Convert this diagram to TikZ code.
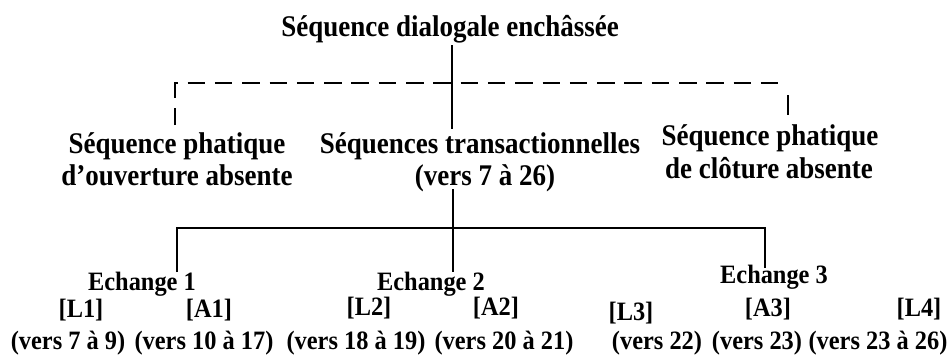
\documentclass[tikz,border=0pt]{standalone}
\usepackage{fontspec}
\setmainfont{Liberation Serif}
\newfontfamily\bigf[FakeStretch=0.9]{Liberation Serif}
\newfontfamily\smallf[FakeStretch=0.92]{Liberation Serif}
\tikzset{
  big/.style={font=\bigf\bfseries\fontsize{30}{32}\selectfont, inner sep=0pt, anchor=base},
  small/.style={font=\smallf\bfseries\fontsize{26.5}{28}\selectfont, inner sep=0pt, anchor=base},
  tree/.style={line width=2pt},
  dtree/.style={line width=2.7pt, dash pattern=on 17.5pt off 9.8pt}
}
\begin{document}
\begin{tikzpicture}[x=1pt,y=-1pt]
\useasboundingbox (0,0) rectangle (948,359);
% level 1
\node[big] (title) at (450,36) {Séquence dialogale enchâssée};
% level 2
\node[big] (lph1) at (177,153) {Séquence phatique};
\node[big] (lph2) at (177,185) {d’ouverture absente};
\node[big] (tr1) at (480,153) {Séquences transactionnelles};
\node[big] (tr2) at (485,185) {(vers 7 à 26)};
\node[big] (rph1) at (770,145) {Séquence phatique};
\node[big] (rph2) at (769,178) {de clôture absente};
% level 3
\node[small] (e1) at (142,290) {Echange 1};
\node[small] (e2) at (431,290) {Echange 2};
\node[small] (e3) at (774,283) {Echange 3};
\node[small] (l1) at (81,317) {[L1]};
\node[small] (a1) at (209,317) {[A1]};
\node[small] (l2) at (369,315) {[L2]};
\node[small] (a2) at (496,315) {[A2]};
\node[small] (l3) at (631,320) {[L3]};
\node[small] (a3) at (768,316) {[A3]};
\node[small] (l4) at (919,316) {[L4]};
\node[small] (v1) at (68,349) {(vers 7 à 9)};
\node[small] (v2) at (204,349) {(vers 10 à 17)};
\node[small] (v3) at (356,349) {(vers 18 à 19)};
\node[small] (v4) at (504,349) {(vers 20 à 21)};
\node[small] (v5) at (657,349) {(vers 22)};
\node[small] (v6) at (757,349) {(vers 23)};
\node[small] (v7) at (878,349) {(vers 23 à 26)};
% junction coordinates
\coordinate (t0) at (452,45);
\coordinate (t1) at (452,129);
\coordinate (dl) at (175,83);
\coordinate (dr) at (788,83);
\coordinate (dlb) at (175,125);
\coordinate (drb) at (788,115);
\coordinate (s0) at (453,189);
\coordinate (s1) at (453,272);
\coordinate (hl) at (177,228);
\coordinate (hr) at (765,228);
\coordinate (hlb) at (177,272);
\coordinate (hrb) at (765,268);
% dashed bracket
\draw[dtree] (dlb) -- (dl) -- (dr);
\draw[line width=2.7pt, dash pattern=on 0pt off 12pt on 20pt off 10pt] (dr) -- (drb);
% solid lines
\draw[tree] (t0) -- (t1);
\draw[tree] (hlb) -- (hl) -- (hr) -- (hrb);
\draw[tree] (s0) -- (s1);
\end{tikzpicture}
\end{document}
